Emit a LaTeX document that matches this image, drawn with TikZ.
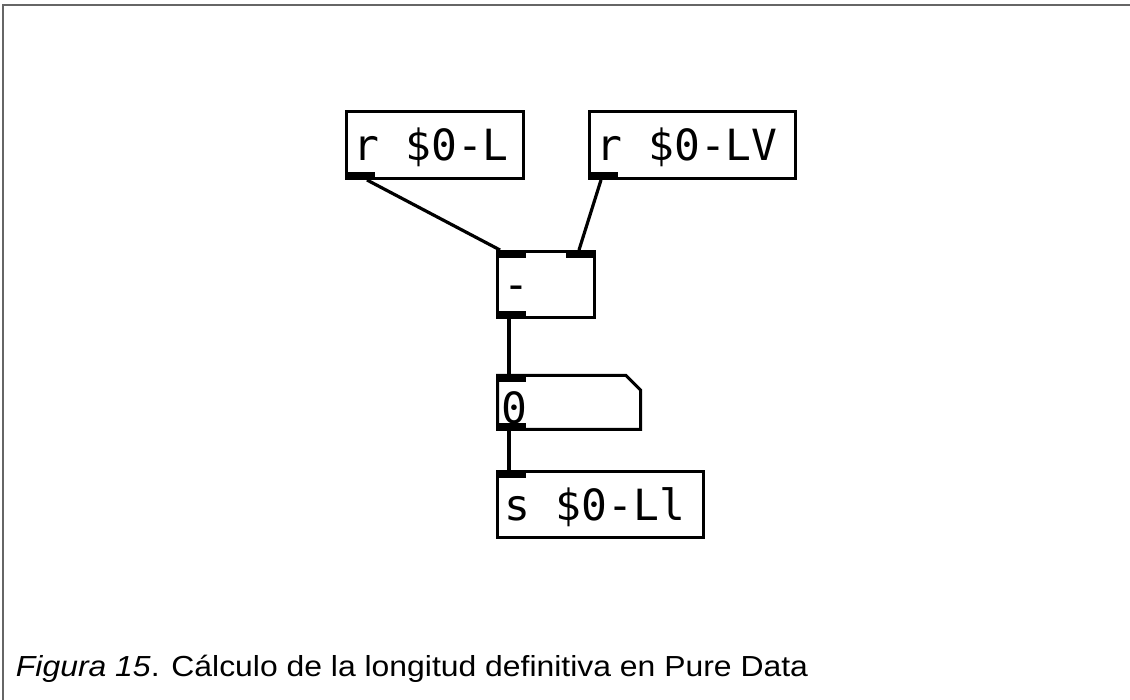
\documentclass[tikz,border=0pt]{standalone}
\usepackage{graphicx}
\usepackage{fontspec}
\setmainfont{Liberation Sans}
\newfontfamily\pdmono{DejaVu Sans Mono}
\usetikzlibrary{calc}
\begin{document}
\begin{tikzpicture}[x=1pt,y=-1pt,
  pdbox/.style={draw=black, line width=3pt, rectangle, inner sep=0pt, outer sep=1.5pt, anchor=north west},
  iolet/.style={fill=black, rectangle, inner sep=0pt, outer sep=0pt, minimum width=30pt, minimum height=8pt},
  pdtext/.style={anchor=base west, inner sep=0pt, outer sep=0pt, font=\pdmono\fontsize{43}{43}\selectfont},
  ctl/.style={draw=black, line width=3.2pt},
  sigwire/.style={draw=black, line width=4.5pt},
  captext/.style={anchor=base west, inner sep=0pt, outer sep=0pt, font=\fontsize{29}{29}\selectfont}]

% page and frame
\useasboundingbox (0,0) rectangle (1130,700);
\fill[white] (0,0) rectangle (1130,700);
\draw[gray!80!black, line width=1.5pt] (3,700) -- (3,5) -- (1130,5);

% object boxes
\node[pdbox, minimum width=177pt, minimum height=67pt] (recvL)  at (345,110) {};
\node[pdbox, minimum width=206pt, minimum height=67pt] (recvLV) at (588,110) {};
\node[pdbox, minimum width=97pt,  minimum height=66pt] (minus)  at (496,250) {};
\node[pdbox, minimum width=206pt, minimum height=66pt] (sendLl) at (496,470) {};

% number box with its cut corner
\node[rectangle, inner sep=0pt, outer sep=0pt, minimum width=146pt, minimum height=57pt, anchor=north west] (num) at (496,374) {};
\draw[line width=3pt, line join=miter]
  ($(num.north west)+(1.5,1.5)$) -- ($(num.north east)+(-16,1.5)$) --
  ($(num.north east)+(-1.5,16)$) -- ($(num.south east)+(-1.5,-1.5)$) --
  ($(num.south west)+(1.5,-1.5)$) -- cycle;

% inlets and outlets
\node[iolet, anchor=south west] (recvLout)  at (recvL.south west) {};
\node[iolet, anchor=south west] (recvLVout) at (recvLV.south west) {};
\node[iolet, anchor=north west] (minusinL)  at (minus.north west) {};
\node[iolet, anchor=north east] (minusinR)  at (minus.north east) {};
\node[iolet, anchor=south west] (minusout)  at (minus.south west) {};
\node[iolet, anchor=north west] (numin)     at (num.north west) {};
\node[iolet, anchor=south west] (numout)    at (num.south west) {};
\node[iolet, anchor=north west] (sendin)    at (sendLl.north west) {};

% box contents
\node[pdtext] (tL)     at ($(recvL.north west)+(8.5,51)$)  {r \$0-L};
\node[pdtext] (tLV)    at ($(recvLV.north west)+(8.5,51)$) {r \$0-LV};
\node[pdtext] (tminus) at ($(minus.north west)+(7,50)$)    {-};
\node[pdtext] (tnum)   at ($(num.north west)+(5.5,49.3)$)  {0};
\node[pdtext] (tsend)  at ($(sendLl.north west)+(8,50)$)   {s \$0-Ll};

% connections
\draw[ctl] ($(recvLout.south east)+(-8,0)$) -- ($(minusinL.north west)+(4,0)$);
\draw[ctl] ($(recvLVout.south)+(-2,0)$) -- ($(minusinR.north)+(-2,0)$);
\draw[sigwire] ($(minusout.south west)+(13,0)$) -- ($(numin.north west)+(13,0)$);
\draw[sigwire] ($(numout.south west)+(13,0)$) -- ($(sendin.north west)+(13,0)$);

% caption, slightly widened
\node[captext] (caption) at (16,676.5)
  {\scalebox{1.10}[1]{\textit{Figura 15}. Cálculo de la longitud definitiva en Pure Data}};
\end{tikzpicture}
\end{document}
